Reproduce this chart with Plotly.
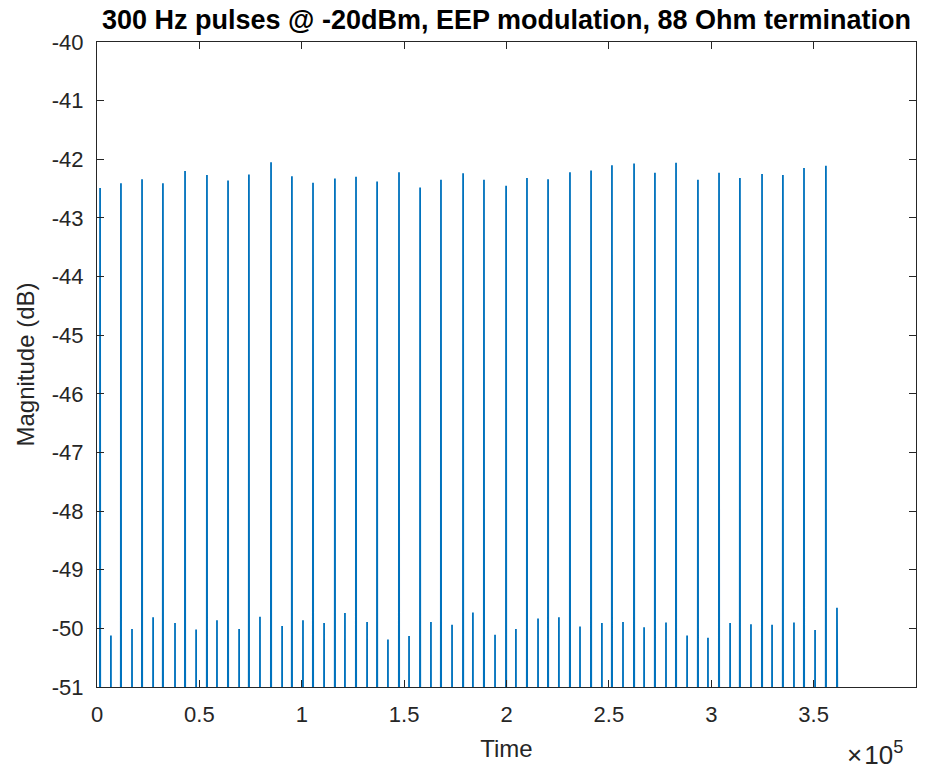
import plotly.graph_objects as go

# Tall pulse positions (time) and peak magnitudes (dB)
tall_t = [1500, 11700, 22000, 32200, 43000, 53700, 64000, 74200, 85000,
          95200, 105500, 116200, 126500, 136800, 147500, 157800, 168000, 178800,
          189000, 199800, 210000, 220300, 231000, 241300, 251500, 262300, 272500,
          282800, 293500, 303800, 314000, 324800, 335000, 345300, 356000]
tall_db = [-42.49, -42.41, -42.34, -42.41, -42.20, -42.27, -42.36, -42.26, -42.05,
           -42.29, -42.40, -42.33, -42.30, -42.38, -42.22, -42.48, -42.35, -42.24,
           -42.35, -42.45, -42.32, -42.34, -42.22, -42.19, -42.10, -42.07, -42.23,
           -42.06, -42.35, -42.23, -42.32, -42.25, -42.27, -42.15, -42.11]

# Small pulse positions and peaks
small_t = [6800, 17100, 27400, 38100, 48400, 58600, 69400, 79600, 90400,
           100600, 110900, 121100, 131900, 142100, 152400, 163100, 173400, 183600,
           194400, 204600, 215400, 225600, 235900, 246600, 256900, 267200, 277900,
           288200, 298400, 309200, 319400, 329700, 340400, 350700, 361400]
small_db = [-50.12, -50.01, -49.81, -49.91, -50.02, -49.86, -50.01, -49.80, -49.96,
            -49.86, -49.91, -49.74, -49.89, -50.19, -50.13, -49.89, -49.94, -49.73,
            -50.11, -50.01, -49.83, -49.81, -49.97, -49.91, -49.89, -49.98, -49.90,
            -50.12, -50.16, -49.91, -49.93, -49.94, -49.90, -50.03, -49.65]

floor_db = -60.0   # noise floor, below the visible range
half_w = 150       # half width of a pulse in time units

x_ticks = [0, 50000, 100000, 150000, 200000, 250000, 300000, 350000]
x_ticktext = ["0", "0.5", "1", "1.5", "2", "2.5", "3", "3.5"]
y_ticks = list(range(-51, -39))

events = sorted(list(zip(tall_t, tall_db)) + list(zip(small_t, small_db)))
xs, ys = [0], [floor_db]
for t, v in events:
    xs += [t - half_w, t, t + half_w]
    ys += [floor_db, v, floor_db]
xs.append(362500)
ys.append(floor_db)

FONT = "Liberation Sans, Arial"
TXT = "#262626"

fig = go.Figure()
fig.add_trace(go.Scatter(x=xs, y=ys, mode="lines",
                         line=dict(color="#0072BD", width=1.8),
                         showlegend=False, hoverinfo="skip"))

axis_common = dict(showgrid=False, zeroline=False, showline=True,
                   linecolor=TXT, linewidth=1, mirror="ticks",
                   ticks="inside", ticklen=7, tickcolor=TXT,
                   tickfont=dict(family=FONT, size=22, color=TXT))

fig.update_layout(
    width=926, height=775,
    margin=dict(l=97, r=10, t=42, b=88),
    paper_bgcolor="white", plot_bgcolor="white",
    title=dict(text="<b>300 Hz pulses @ -20dBm, EEP modulation, 88 Ohm termination</b>",
               font=dict(family=FONT, size=27, color="black"),
               x=0.5, xanchor="center", xref="paper", y=1, yref="paper",
               yanchor="bottom", pad=dict(b=13)),
    xaxis=dict(range=[0, 400000], tickvals=x_ticks, ticktext=x_ticktext,
               ticklabelstandoff=8,
               title=dict(text="Time", font=dict(family=FONT, size=24, color=TXT),
                          standoff=13),
               **axis_common),
    yaxis=dict(range=[-51, -40], tickvals=y_ticks,
               ticktext=[str(v) for v in y_ticks],
               ticklabelstandoff=8,
               title=dict(text="Magnitude (dB)", font=dict(family=FONT, size=24, color=TXT),
                          standoff=10),
               **axis_common),
)

fig.add_annotation(text="×\u200a10<sup>5</sup>", xref="paper", yref="paper",
                   x=0.987, y=0, xanchor="right", yanchor="top", yshift=-48,
                   showarrow=False,
                   font=dict(family=FONT, size=26, color=TXT))

fig.write_html("out.html")
